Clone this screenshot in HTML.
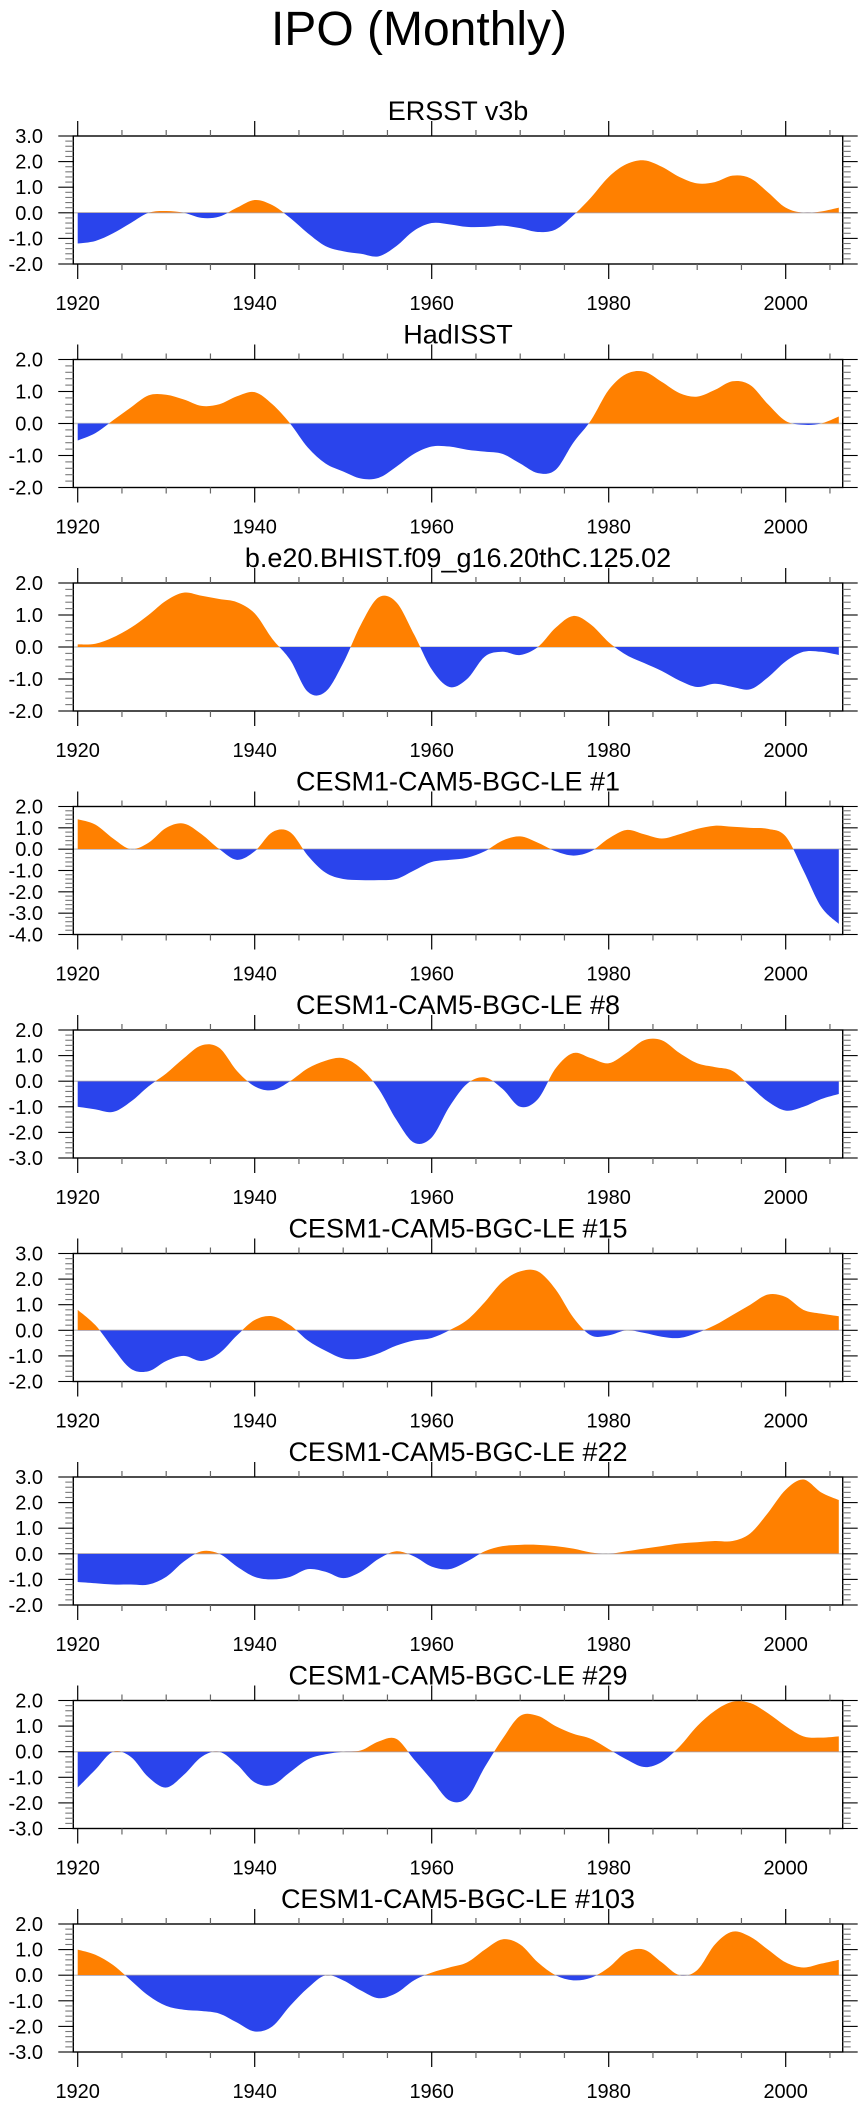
<!DOCTYPE html>
<html><head><meta charset="utf-8">
<style>
html,body{margin:0;padding:0;background:#fff;}
svg{display:block;font-family:"Liberation Sans",Arial,sans-serif;}
</style></head>
<body>
<svg id="chart" width="867" height="2107" viewBox="0 0 867 2107" xmlns="http://www.w3.org/2000/svg">
<text x="419" y="45" font-size="48" text-anchor="middle" fill="#000">IPO (Monthly)</text>
</svg>
<script>
const years = [1920,1922,1924,1926,1928,1930,1932,1934,1936,1938,1940,1942,1944,1946,1948,1950,1952,1954,1956,1958,1960,1962,1964,1966,1968,1970,1972,1974,1976,1978,1980,1982,1984,1986,1988,1990,1992,1994,1996,1998,2000,2002,2004,2006];
const titles = ["ERSST v3b","HadISST","b.e20.BHIST.f09_g16.20thC.125.02","CESM1-CAM5-BGC-LE #1","CESM1-CAM5-BGC-LE #8","CESM1-CAM5-BGC-LE #15","CESM1-CAM5-BGC-LE #22","CESM1-CAM5-BGC-LE #29","CESM1-CAM5-BGC-LE #103"];
const yMax = [3,2,2,2,2,3,3,2,2];
const yMin = [-2,-2,-2,-4,-3,-2,-2,-3,-3];
const xTickLabels = [1920,1940,1960,1980,2000];
const sErsst = [-1.2,-1.1,-0.8,-0.4,0.0,0.07,0.0,-0.2,-0.15,0.2,0.5,0.3,-0.2,-0.8,-1.3,-1.5,-1.6,-1.7,-1.3,-0.7,-0.4,-0.45,-0.55,-0.55,-0.5,-0.6,-0.75,-0.65,-0.1,0.6,1.4,1.9,2.05,1.8,1.4,1.15,1.2,1.45,1.35,0.8,0.2,0.0,0.05,0.2];
const sHad = [-0.53,-0.3,0.1,0.5,0.88,0.9,0.75,0.55,0.6,0.85,0.98,0.6,0.0,-0.75,-1.25,-1.5,-1.72,-1.7,-1.35,-0.95,-0.72,-0.72,-0.82,-0.88,-0.95,-1.25,-1.55,-1.45,-0.6,0.1,1.05,1.55,1.62,1.3,0.95,0.84,1.05,1.32,1.2,0.6,0.08,-0.04,0.0,0.22];
const sBhist = [0.08,0.1,0.3,0.6,1.0,1.45,1.7,1.6,1.5,1.4,1.05,0.25,-0.4,-1.4,-1.4,-0.5,0.7,1.55,1.4,0.4,-0.7,-1.25,-1.0,-0.3,-0.15,-0.25,0.0,0.6,0.97,0.7,0.15,-0.25,-0.5,-0.75,-1.05,-1.25,-1.15,-1.25,-1.32,-0.95,-0.45,-0.15,-0.15,-0.25];
const sLe1 = [1.4,1.15,0.5,0.0,0.3,1.0,1.2,0.7,0.0,-0.5,-0.1,0.8,0.8,-0.3,-1.1,-1.4,-1.45,-1.45,-1.4,-1.0,-0.6,-0.5,-0.4,-0.1,0.4,0.6,0.3,-0.1,-0.3,-0.1,0.5,0.9,0.7,0.5,0.7,0.95,1.1,1.05,1.0,0.95,0.6,-1.0,-2.7,-3.5];
const sLe8 = [-1.0,-1.1,-1.2,-0.8,-0.2,0.3,0.9,1.4,1.3,0.4,-0.2,-0.35,0.0,0.5,0.8,0.9,0.5,-0.3,-1.5,-2.4,-2.2,-1.0,-0.1,0.15,-0.3,-1.0,-0.7,0.5,1.1,0.9,0.7,1.1,1.6,1.6,1.1,0.7,0.55,0.4,-0.2,-0.8,-1.15,-1.0,-0.7,-0.5];
const sLe15 = [0.8,0.2,-0.7,-1.5,-1.6,-1.2,-1.0,-1.2,-0.9,-0.2,0.4,0.55,0.2,-0.4,-0.8,-1.1,-1.1,-0.9,-0.6,-0.4,-0.3,0.0,0.4,1.1,1.9,2.3,2.3,1.6,0.5,-0.2,-0.2,0.0,-0.1,-0.25,-0.3,-0.1,0.2,0.6,1.0,1.4,1.3,0.8,0.65,0.55];
const sLe22 = [-1.1,-1.15,-1.2,-1.2,-1.2,-0.9,-0.3,0.1,0.0,-0.5,-0.9,-1.0,-0.9,-0.6,-0.7,-0.95,-0.7,-0.2,0.1,-0.1,-0.5,-0.6,-0.3,0.1,0.3,0.35,0.35,0.3,0.2,0.05,0.0,0.1,0.2,0.3,0.4,0.45,0.5,0.5,0.8,1.6,2.5,2.9,2.4,2.1];
const sLe29 = [-1.4,-0.7,0.0,-0.2,-1.0,-1.4,-0.9,-0.2,0.0,-0.5,-1.2,-1.3,-0.8,-0.3,-0.1,0.0,0.05,0.4,0.5,-0.3,-1.1,-1.9,-1.8,-0.6,0.5,1.4,1.4,1.0,0.7,0.5,0.1,-0.3,-0.6,-0.4,0.2,1.0,1.6,1.95,1.9,1.5,1.0,0.6,0.55,0.6];
const sLe103 = [1.0,0.8,0.4,-0.2,-0.8,-1.2,-1.35,-1.4,-1.5,-1.85,-2.2,-2.0,-1.2,-0.5,0.0,-0.2,-0.6,-0.9,-0.7,-0.2,0.1,0.3,0.5,1.0,1.4,1.2,0.5,0.0,-0.2,-0.1,0.3,0.9,1.0,0.5,0.0,0.2,1.2,1.7,1.5,1.0,0.5,0.3,0.45,0.6];
const series = [sErsst,sHad,sBhist,sLe1,sLe8,sLe15,sLe22,sLe29,sLe103];

const NS="http://www.w3.org/2000/svg";
const svg=document.getElementById('chart');
const L=73.3,R=842.7,H=128,TOP0=136,STEP=223.5;
const xScale=y=>77.7+(y-1920)*8.85;
function mk(tag,attrs,parent){const e=document.createElementNS(NS,tag);for(const k in attrs)e.setAttribute(k,attrs[k]);(parent||svg).appendChild(e);return e;}

series.forEach((vals,p)=>{
  const top=TOP0+p*STEP,bot=top+H;
  const ymax=yMax[p],ymin=yMin[p];
  const yScale=v=>top+(ymax-v)/(ymax-ymin)*H;
  const g=mk('g',{});
  
  
  const t=mk('text',{x:458,y:top-16,'font-size':27,'text-anchor':'middle',fill:'#000'},g);
  t.textContent=titles[p];
  
  
  const z=yScale(0);
  const zl=mk('line',{x1:L,x2:R,y1:z,y2:z,stroke:'#c8c8c8','stroke-width':1.5},g);
  
  
  const pts=years.map((y,i)=>[xScale(y),yScale(vals[i])]);
  let d='M'+pts[0][0]+','+z+' L'+pts[0][0]+','+pts[0][1];
  for(let i=0;i<pts.length-1;i++){
    const p0=pts[Math.max(0,i-1)],p1=pts[i],p2=pts[i+1],p3=pts[Math.min(pts.length-1,i+2)];
    const c1=[p1[0]+(p2[0]-p0[0])/6,p1[1]+(p2[1]-p0[1])/6];
    const c2=[p2[0]-(p3[0]-p1[0])/6,p2[1]-(p3[1]-p1[1])/6];
    d+=' C'+c1[0]+','+c1[1]+' '+c2[0]+','+c2[1]+' '+p2[0]+','+p2[1];
  }
  d+=' L'+pts[pts.length-1][0]+','+z+' Z';
  const cpA=mk('clipPath',{id:'ca'+p},g);mk('rect',{x:L,y:top,width:R-L,height:z-top},cpA);
  const cpB=mk('clipPath',{id:'cb'+p},g);mk('rect',{x:L,y:z,width:R-L,height:bot-z},cpB);
  const pa=mk('path',{d:d,fill:'#ff8000','clip-path':'url(#ca'+p+')'},g);
  
  
  const pb=mk('path',{d:d,fill:'#2a44ec','clip-path':'url(#cb'+p+')'},g);
  
  
  const fr=mk('rect',{x:L,y:top,width:R-L,height:H,fill:'none',stroke:'#000','stroke-width':1.4},g);
  
  
  for(let yr=1920;yr<=2005;yr+=5){
    const x=xScale(yr),maj=(yr%20===0),len=maj?15:6;
    mk('line',{x1:x,x2:x,y1:top,y2:top-len,stroke:maj?'#000':'#666','stroke-width':1.2},g);
    mk('line',{x1:x,x2:x,y1:bot,y2:bot+len,stroke:maj?'#000':'#666','stroke-width':1.2},g);
  }
  xTickLabels.forEach(yr=>{
    const tl=mk('text',{x:xScale(yr),y:bot+46,'font-size':20,'text-anchor':'middle',fill:'#000'},g);
    tl.textContent=yr;
    
    
  });
  for(let k=Math.round(ymin*5);k<=Math.round(ymax*5);k++){
    const v=k/5,y=yScale(v),maj=(k%5===0),len=maj?15:8;
    mk('line',{x1:L,x2:L-len,y1:y,y2:y,stroke:maj?'#000':'#777','stroke-width':1.1},g);
    mk('line',{x1:R,x2:R+len,y1:y,y2:y,stroke:maj?'#000':'#777','stroke-width':1.1},g);
    if(maj){
      const yl=mk('text',{x:43,y:y+7,'font-size':20,'text-anchor':'end',fill:'#000'},g);
      yl.textContent=v.toFixed(1);
      
      
    }
  }
});
</script>
</body></html>
